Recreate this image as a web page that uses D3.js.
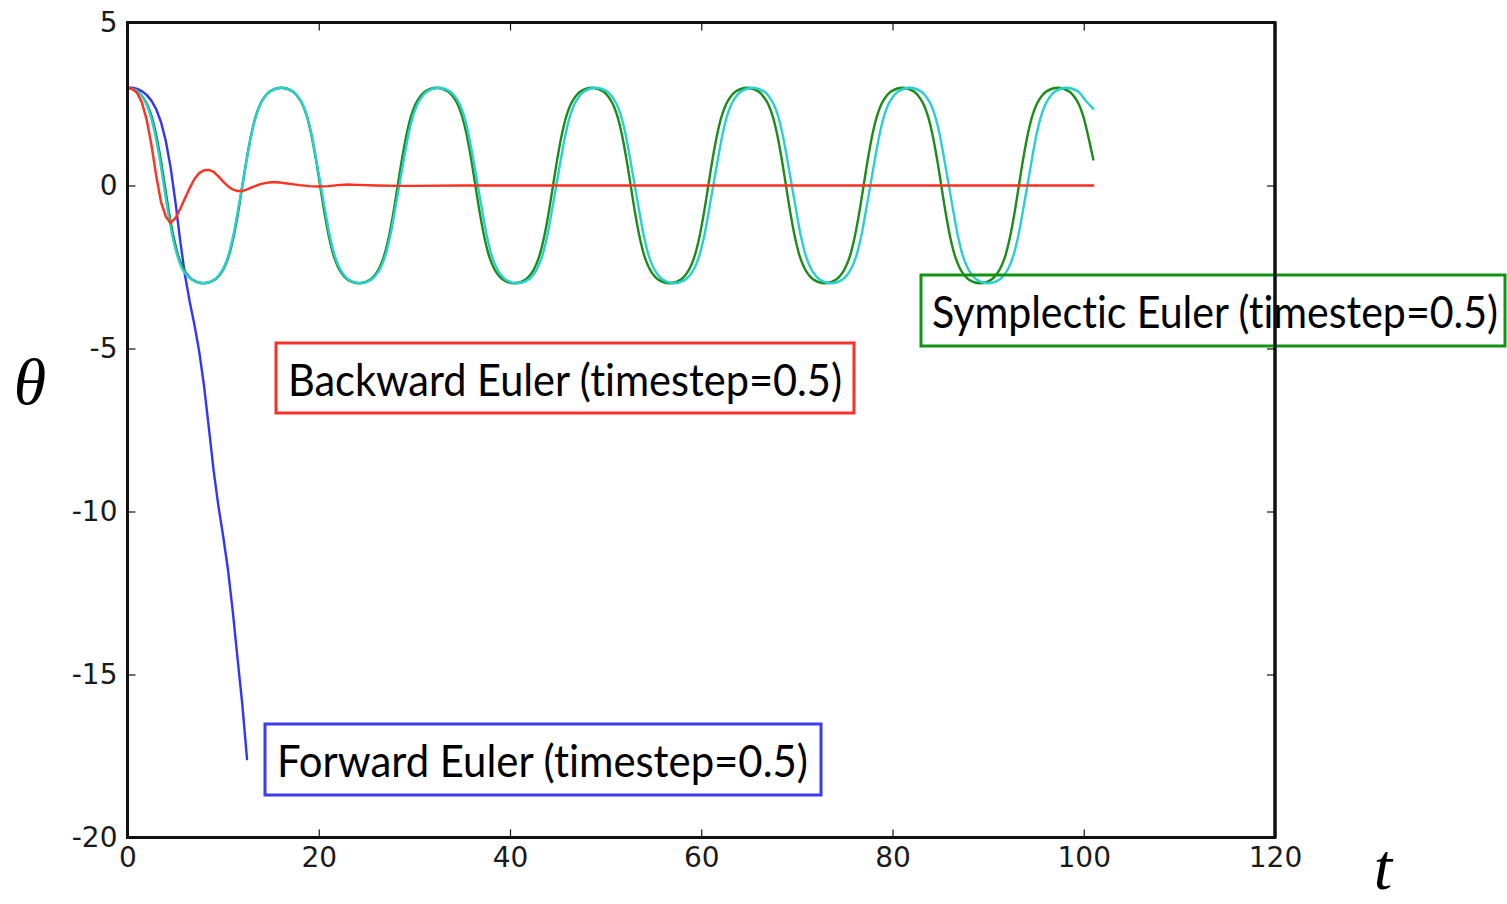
<!DOCTYPE html>
<html><head><meta charset="utf-8">
<script src="https://cdn.jsdelivr.net/npm/d3@7"></script>
<style>body{margin:0;background:#fff}svg{display:block}</style>
</head><body>
<svg id="chart" width="1507" height="904"></svg>
<script>
// ---------- data ----------
const xTickValues = [0, 20, 40, 60, 80, 100, 120];
const yTickValues = [5, 0, -5, -10, -15, -20];

// reference / exact-like solution (cyan)
const cyanSeries = [
[0,3],[1.1,2.88],[1.8,2.6],[2.35,2.19],[2.85,1.62],[3.35,0.84],[3.8,0],[4.25,-0.84],[4.75,-1.62],[5.25,-2.19],[5.8,-2.6],[6.7,-2.88],[7.9,-3],
[9.1,-2.88],[9.9,-2.6],[10.5,-2.19],[11.0,-1.62],[11.5,-0.84],[12.0,0],[12.5,0.84],[13.0,1.62],[13.5,2.19],[14.1,2.6],[14.9,2.88],[16.11,3],
[17.31,2.88],[18.11,2.6],[18.71,2.19],[19.21,1.62],[19.71,0.84],[20.21,0],[20.71,-0.84],[21.21,-1.62],[21.71,-2.19],[22.31,-2.6],[23.11,-2.88],[24.32,-3],
[25.52,-2.88],[26.32,-2.6],[26.92,-2.19],[27.42,-1.62],[27.92,-0.84],[28.42,0],[28.92,0.84],[29.42,1.62],[29.92,2.19],[30.52,2.6],[31.32,2.88],[32.53,3],
[33.73,2.88],[34.53,2.6],[35.13,2.19],[35.63,1.62],[36.13,0.84],[36.63,0],[37.13,-0.84],[37.63,-1.62],[38.13,-2.19],[38.73,-2.6],[39.53,-2.88],[40.74,-3],
[41.94,-2.88],[42.74,-2.6],[43.34,-2.19],[43.84,-1.62],[44.34,-0.84],[44.84,0],[45.34,0.84],[45.84,1.62],[46.34,2.19],[46.94,2.6],[47.74,2.88],[48.95,3],
[50.15,2.88],[50.95,2.6],[51.55,2.19],[52.05,1.62],[52.55,0.84],[53.05,0],[53.55,-0.84],[54.05,-1.62],[54.55,-2.19],[55.15,-2.6],[55.95,-2.88],[57.16,-3],
[58.36,-2.88],[59.16,-2.6],[59.76,-2.19],[60.26,-1.62],[60.76,-0.84],[61.26,0],[61.76,0.84],[62.26,1.62],[62.76,2.19],[63.36,2.6],[64.16,2.88],[65.37,3],
[66.57,2.88],[67.37,2.6],[67.97,2.19],[68.47,1.62],[68.97,0.84],[69.47,0],[69.97,-0.84],[70.47,-1.62],[70.97,-2.19],[71.57,-2.6],[72.37,-2.88],[73.58,-3],
[74.78,-2.88],[75.58,-2.6],[76.18,-2.19],[76.68,-1.62],[77.18,-0.84],[77.68,0],[78.18,0.84],[78.68,1.62],[79.18,2.19],[79.78,2.6],[80.58,2.88],[81.79,3],
[82.99,2.88],[83.79,2.6],[84.39,2.19],[84.89,1.62],[85.39,0.84],[85.89,0],[86.39,-0.84],[86.89,-1.62],[87.39,-2.19],[87.99,-2.6],[88.79,-2.88],[90.0,-3],
[91.2,-2.88],[92.0,-2.6],[92.6,-2.19],[93.1,-1.62],[93.6,-0.84],[94.1,0],[94.6,0.84],[95.1,1.62],[95.6,2.19],[96.2,2.6],[97.0,2.88],[98.21,3],
[99.41,2.88],[100.21,2.6],[101,2.35]
];

// symplectic Euler, timestep 0.5 (green)
const greenSeries = [
[0,3],[1.1,2.88],[1.85,2.6],[2.45,2.19],[2.95,1.62],[3.45,0.84],[3.9,0],[4.35,-0.84],[4.85,-1.62],[5.35,-2.19],[5.95,-2.6],[6.75,-2.88],[7.96,-3],
[9.16,-2.88],[9.96,-2.6],[10.56,-2.19],[11.06,-1.62],[11.56,-0.84],[12.02,0],[12.48,0.84],[12.98,1.62],[13.48,2.19],[14.08,2.6],[14.88,2.88],[16.08,3],
[17.28,2.88],[18.08,2.6],[18.68,2.19],[19.18,1.62],[19.68,0.84],[20.14,0],[20.6,-0.84],[21.1,-1.62],[21.6,-2.19],[22.2,-2.6],[23.0,-2.88],[24.2,-3],
[25.4,-2.88],[26.2,-2.6],[26.8,-2.19],[27.3,-1.62],[27.8,-0.84],[28.26,0],[28.72,0.84],[29.22,1.62],[29.72,2.19],[30.32,2.6],[31.12,2.88],[32.32,3],
[33.52,2.88],[34.32,2.6],[34.92,2.19],[35.42,1.62],[35.92,0.84],[36.38,0],[36.84,-0.84],[37.34,-1.62],[37.84,-2.19],[38.44,-2.6],[39.24,-2.88],[40.44,-3],
[41.64,-2.88],[42.44,-2.6],[43.04,-2.19],[43.54,-1.62],[44.04,-0.84],[44.5,0],[44.96,0.84],[45.46,1.62],[45.96,2.19],[46.56,2.6],[47.36,2.88],[48.56,3],
[49.76,2.88],[50.56,2.6],[51.16,2.19],[51.66,1.62],[52.16,0.84],[52.62,0],[53.08,-0.84],[53.58,-1.62],[54.08,-2.19],[54.68,-2.6],[55.48,-2.88],[56.68,-3],
[57.88,-2.88],[58.68,-2.6],[59.28,-2.19],[59.78,-1.62],[60.28,-0.84],[60.74,0],[61.2,0.84],[61.7,1.62],[62.2,2.19],[62.8,2.6],[63.6,2.88],[64.8,3],
[66.0,2.88],[66.8,2.6],[67.4,2.19],[67.9,1.62],[68.4,0.84],[68.86,0],[69.32,-0.84],[69.82,-1.62],[70.32,-2.19],[70.92,-2.6],[71.72,-2.88],[72.92,-3],
[74.12,-2.88],[74.92,-2.6],[75.52,-2.19],[76.02,-1.62],[76.52,-0.84],[76.98,0],[77.44,0.84],[77.94,1.62],[78.44,2.19],[79.04,2.6],[79.84,2.88],[81.04,3],
[82.24,2.88],[83.04,2.6],[83.64,2.19],[84.14,1.62],[84.64,0.84],[85.1,0],[85.56,-0.84],[86.06,-1.62],[86.56,-2.19],[87.16,-2.6],[87.96,-2.88],[89.16,-3],
[90.36,-2.88],[91.16,-2.6],[91.76,-2.19],[92.26,-1.62],[92.76,-0.84],[93.22,0],[93.68,0.84],[94.18,1.62],[94.68,2.19],[95.28,2.6],[96.08,2.88],[97.28,3],
[98.48,2.88],[99.28,2.6],[99.88,2.19],[100.38,1.62],[101,0.8]
];

// backward Euler, timestep 0.5 (red)
const redSeries = [
[0,3],[0.5,2.96],[1,2.84],[1.5,2.55],[2,2.02],[2.5,1.25],[3,0.3],[3.5,-0.5],[4,-0.95],[4.5,-1.15],[5,-1.0],[5.5,-0.72],[6,-0.4],[6.5,-0.08],
[7,0.2],[7.5,0.38],[8,0.47],[8.5,0.48],[9,0.42],[9.5,0.28],[10,0.12],[10.5,-0.02],[11,-0.12],[11.5,-0.17],[12,-0.17],[12.5,-0.12],[13,-0.06],
[13.5,0],[14,0.05],[14.5,0.08],[15,0.1],[15.5,0.1],[16,0.09],[16.5,0.07],[17,0.05],[18,0.01],[19,-0.02],[20,-0.03],[21,-0.02],[22,0.01],[23,0.03],
[24,0.02],[26,0],[28,-0.01],[30,-0.01],[35,0],[101,0]
];

// forward Euler, timestep 0.5 (blue)
const blueSeries = [
[0,3],[0.5,3],[1,2.965],[1.5,2.894],[2,2.78],[2.5,2.604],[3,2.339],[3.5,1.947],[4,1.375],[4.5,0.57],[5,-0.48],[5.5,-1.665],[6,-2.735],
[6.5,-3.555],[7,-4.275],[7.5,-5.095],[8,-6.14],[8.5,-7.418],[9,-8.733],[9.5,-9.82],[10,-10.75],[10.5,-11.77],[11,-13.04],[11.5,-14.49],
[12,-15.9],[12.5,-17.6]
];

const annotationTexts = [
  "Backward Euler (timestep=0.5)",
  "Symplectic Euler (timestep=0.5)",
  "Forward Euler (timestep=0.5)"
];

// ---------- drawing ----------
const svg = d3.select("#chart");
const L = 127.5, R = 1275, T = 22.5, B = 837.5;
const x = d3.scaleLinear().domain([0, 120]).range([L, R]);
const y = d3.scaleLinear().domain([-20, 5]).range([B, T]);

const tickFont = "'DejaVu Sans', sans-serif";
function styleAxis(g, labels) {
  g.select(".domain").remove();
  g.selectAll(".tick line").attr("stroke", "#111").attr("stroke-width", 1.2);
  g.selectAll(".tick text").attr("fill", "#1a1a1a").style("font-family", tickFont).style("font-size", "28px");
  if (!labels) g.selectAll(".tick text").remove();
}
const plainFormat = d => String(d);   // matplotlib-style hyphen minus

svg.append("g").attr("transform", `translate(0,${B})`)
  .call(d3.axisBottom(x).tickValues(xTickValues).tickSize(-8).tickPadding(10).tickFormat(plainFormat))
  .call(g => styleAxis(g, true));
svg.append("g").attr("transform", `translate(0,${T})`)
  .call(d3.axisTop(x).tickValues(xTickValues).tickSize(-8))
  .call(g => styleAxis(g, false));
svg.append("g").attr("transform", `translate(${L},0)`)
  .call(d3.axisLeft(y).tickValues(yTickValues).tickSize(-8).tickPadding(10).tickFormat(plainFormat))
  .call(g => styleAxis(g, true));
svg.append("g").attr("transform", `translate(${R},0)`)
  .call(d3.axisRight(y).tickValues(yTickValues).tickSize(-8))
  .call(g => styleAxis(g, false));

const smooth = d3.line().x(d => x(d[0])).y(d => y(d[1])).curve(d3.curveCatmullRom.alpha(0.5));
const straight = d3.line().x(d => x(d[0])).y(d => y(d[1]));

const lines = svg.append("g").attr("fill", "none").attr("stroke-width", 2.4)
  .attr("stroke-linejoin", "round").attr("stroke-linecap", "round");
lines.append("path").datum(blueSeries).attr("d", straight).attr("stroke", "#3333ff");
lines.append("path").datum(greenSeries).attr("d", smooth).attr("stroke", "#1a8c1a");
lines.append("path").datum(cyanSeries).attr("d", smooth).attr("stroke", "#2acfcf");
lines.append("path").datum(redSeries).attr("d", straight).attr("stroke", "#ff3020");

// frame
svg.append("rect").attr("x", L).attr("y", T).attr("width", R - L).attr("height", B - T)
  .attr("fill", "none").attr("stroke", "#111").attr("stroke-width", 3);

// axis symbols
svg.append("text").attr("x", 30).attr("y", 404).attr("text-anchor", "middle")
  .style("font-family", "'Liberation Serif', serif").style("font-style", "italic").style("font-size", "66px")
  .attr("fill", "#000").text("θ");
svg.append("text").attr("x", 1383).attr("y", 889).attr("text-anchor", "middle")
  .style("font-family", "'Liberation Serif', serif").style("font-style", "italic").style("font-size", "66px")
  .attr("fill", "#000").text("t");

// annotation boxes
const boxes = [
  {text: annotationTexts[0], color: "#f5312a", bx: 276, by: 343, bw: 578, bh: 70, tx: 288, tw: 554, base: 396},
  {text: annotationTexts[1], color: "#129312", bx: 921, by: 275, bw: 584, bh: 71, tx: 932, tw: 566, base: 328},
  {text: annotationTexts[2], color: "#3c3cf0", bx: 265, by: 724, bw: 556, bh: 71, tx: 277, tw: 531, base: 777}
];
const ann = svg.append("g");
boxes.forEach(b => {
  ann.append("rect").attr("x", b.bx).attr("y", b.by).attr("width", b.bw).attr("height", b.bh)
    .attr("fill", "none").attr("stroke", b.color).attr("stroke-width", 3);
  ann.append("text").attr("x", b.tx).attr("y", b.base)
    .style("font-family", "Lato, 'Open Sans', sans-serif").style("font-size", "44px")
    .style("font-variant-ligatures", "none").style("font-feature-settings", "'liga' 0, 'clig' 0")
    .attr("fill", "#000").attr("textLength", b.tw).attr("lengthAdjust", "spacingAndGlyphs")
    .text(b.text);
});
// right spine visible through the green box
svg.append("line").attr("x1", R).attr("x2", R).attr("y1", T).attr("y2", B)
  .attr("stroke", "#111").attr("stroke-width", 3);
</script>
</body></html>
